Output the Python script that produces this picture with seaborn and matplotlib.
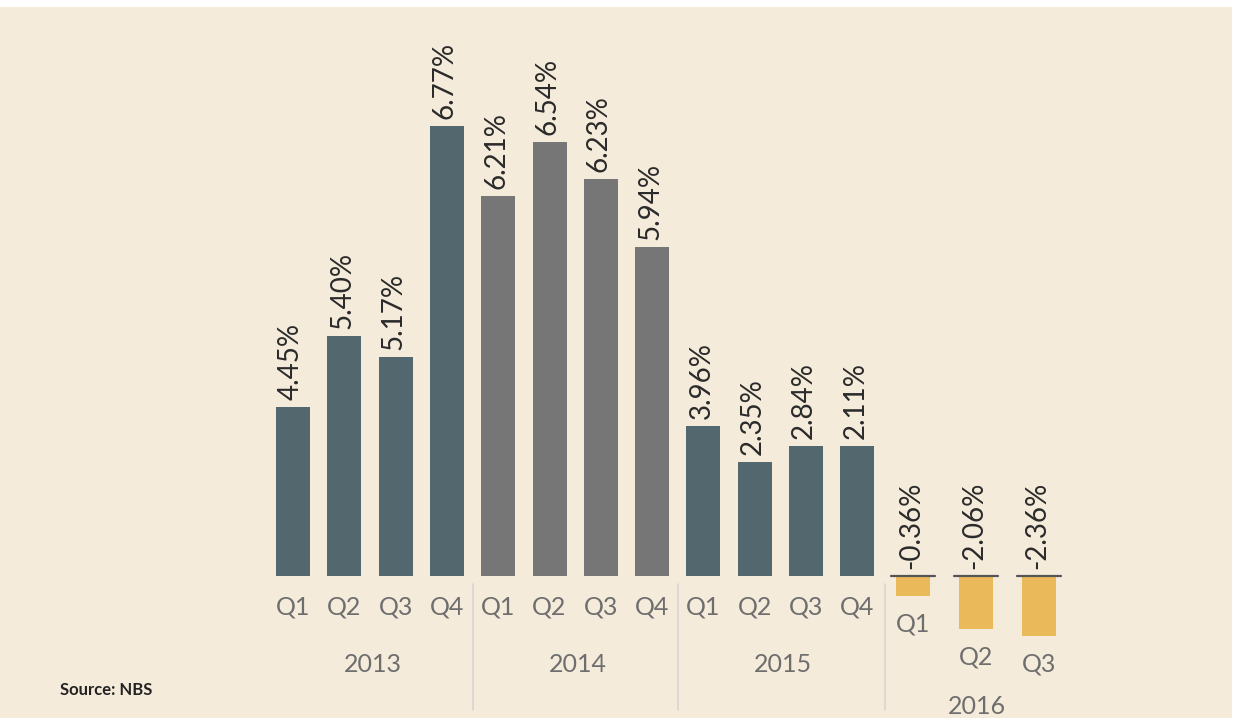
import numpy as np
import pandas as pd
import matplotlib
matplotlib.use("Agg")
import matplotlib.pyplot as plt
import seaborn as sns
from matplotlib.patches import Rectangle

# values as printed on the bars (%)
growth = [4.45, 5.40, 5.17, 6.77,
          6.21, 6.54, 6.23, 5.94,
          3.96, 2.35, 2.84, 2.11,
          -0.36, -2.06, -2.36]
# bar heights as drawn in the picture (the chart is not to scale)
bar_heights = [169, 240, 219, 450,
               380, 434, 397, 329,
               150, 114, 130, 130,
               -20, -53, -60]
quarters = ["Q1", "Q2", "Q3", "Q4"] * 3 + ["Q1", "Q2", "Q3"]
years = ["2013"] * 4 + ["2014"] * 4 + ["2015"] * 4 + ["2016"] * 3
colour_group = ["slate"] * 4 + ["grey"] * 4 + ["slate"] * 4 + ["gold"] * 3

palette = {"slate": "#53686e", "grey": "#777677", "gold": "#e9b95a"}
bg = "#f5ebdb"

# horizontal layout, in pixels of the 1236 px wide figure
pos = []
for i, y in enumerate(years):
    if y != "2016":
        pos.append(293 + i * 51.3)
    else:
        pos.append(913 + (i - 12) * 63)

df = pd.DataFrame({"pos": pos, "h": bar_heights, "growth": growth,
                   "quarter": quarters, "year": years, "grp": colour_group})

sns.set_style("white")
plt.rcParams["font.family"] = ["Lato", "DejaVu Sans"]

fig = plt.figure(figsize=(12.36, 7.18), dpi=100)
fig.patch.set_facecolor("white")
ax = fig.add_axes([0, 0, 1, 1])
ax.set_facecolor(bg)

sns.barplot(data=df, x="pos", y="h", hue="grp", palette=palette,
            native_scale=True, dodge=False, width=34 / 51.3,
            legend=False, ax=ax, saturation=1, errorbar=None,
            linewidth=0, edgecolor="none")

ax.set_xlim(0, 1236)
ax.set_ylim(-142, 576)
ax.set_xticks([])
ax.set_yticks([])
ax.set_xlabel("")
ax.set_ylabel("")
for s in ax.spines.values():
    s.set_visible(False)

# white strip along the top/right edge like the reference
fig.patches.append(Rectangle((0, 711 / 718), 1, 7 / 718, transform=fig.transFigure,
                             facecolor="white", edgecolor="none", zorder=5))
fig.patches.append(Rectangle((1232 / 1236, 0), 4 / 1236, 1, transform=fig.transFigure,
                             facecolor="white", edgecolor="none", zorder=5))

for _, r in df.iterrows():
    ax.text(r.pos - 2, max(r.h, 0) + 7, f"{r.growth:.2f}%", rotation=90,
            ha="center", va="bottom", fontsize=20, color="#2a2a2a")
    if r.year == "2016":
        ax.plot([r.pos - 22, r.pos + 22], [0, 0], color="#555555", lw=1.6)
        qy = r.h - 28
    else:
        qy = -31
    ax.text(r.pos, qy, r.quarter, ha="center", va="center",
            fontsize=18, color="#6e6e6e")

# year labels
for y, g in df.groupby("year"):
    cx = g.pos.mean() + (3 if y != "2016" else 1)
    cy = -89 if y != "2016" else -130
    ax.text(cx, cy, y, ha="center", va="center", fontsize=18, color="#6e6e6e")

# separators between years
for a, b in [(3, 4), (7, 8), (11, 12)]:
    x = (pos[a] + pos[b]) / 2
    ax.plot([x, x], [-8, -134], color="#d9d6d0", lw=1.2)

ax.text(60, -114, "Source: NBS", ha="left", va="center", fontsize=12,
        fontweight="bold", color="#222222")

fig.savefig("out.png", dpi=100, facecolor=fig.get_facecolor())
